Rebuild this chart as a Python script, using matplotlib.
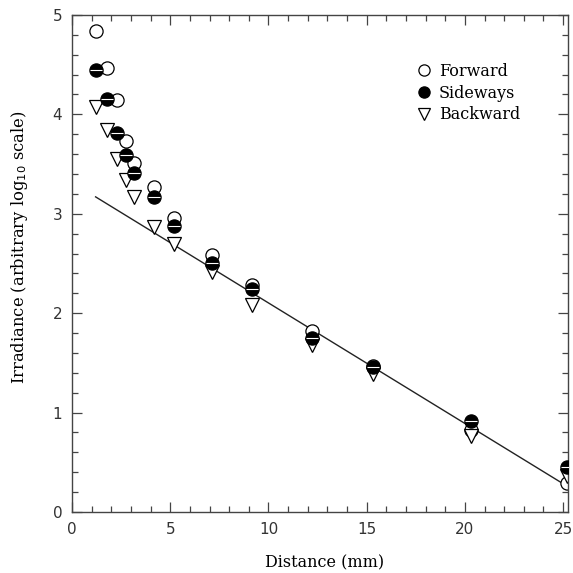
import matplotlib
matplotlib.use("Agg")
import matplotlib.pyplot as plt
from matplotlib.ticker import MultipleLocator

# distances (mm) where irradiance was sampled
distance = [1.22, 1.78, 2.29, 2.75, 3.16, 4.17, 5.19, 7.13, 9.16, 12.2, 15.3, 20.3, 25.2]

# log10 irradiance per direction
forward = [4.84, 4.47, 4.14, 3.73, 3.51, 3.27, 2.96, 2.59, 2.28, 1.82, 1.47, 0.82, 0.29]
sideways = [4.45, 4.15, 3.81, 3.59, 3.41, 3.17, 2.88, 2.50, 2.24, 1.75, 1.46, 0.92, 0.45]
backward = [4.07, 3.84, 3.55, 3.34, 3.17, 2.87, 2.70, 2.41, 2.08, 1.68, 1.39, 0.76, 0.36]

# fitted straight line (end points)
fit_x = [1.2, 25.2]
fit_y = [3.17, 0.26]

serif = ["DejaVu Serif"]

fig = plt.figure(figsize=(5.73, 5.73), dpi=100)
ax = fig.add_axes([0.1257, 0.1065, 0.8656, 0.8674])

ax.plot(fit_x, fit_y, color="#222222", linewidth=1.0, zorder=1)
ax.plot(distance, forward, linestyle="none", marker="o", markersize=9.5,
        markerfacecolor="white", markeredgecolor="black", markeredgewidth=0.9,
        label="Forward", zorder=2)
ax.plot(distance, sideways, linestyle="none", marker="o", markersize=9.5,
        markerfacecolor="black", markeredgecolor="black", markeredgewidth=0.9,
        label="Sideways", zorder=3)
# the white stripe across the filled circles
ax.plot(distance, sideways, linestyle="none", marker="_", markersize=8,
        markeredgecolor="white", markeredgewidth=0.8, zorder=4)
ax.plot(distance, backward, linestyle="none", marker="v", markersize=9.5,
        markerfacecolor="white", markeredgecolor="black", markeredgewidth=0.9,
        label="Backward", zorder=2)

ax.set_xlim(0, 25.25)
ax.set_ylim(0, 5)
ax.xaxis.set_major_locator(MultipleLocator(5))
ax.xaxis.set_minor_locator(MultipleLocator(1))
ax.yaxis.set_major_locator(MultipleLocator(1))
ax.yaxis.set_minor_locator(MultipleLocator(0.2))
ax.tick_params(which="both", direction="in", top=True, right=True,
               color="#444444", width=0.9)
ax.tick_params(which="major", length=7, labelsize=11, pad=7,
               labelcolor="#333333")
ax.tick_params(which="minor", length=4)
for sp in ax.spines.values():
    sp.set_color("#444444")
    sp.set_linewidth(1.0)

ax.set_xlabel("Distance (mm)", fontsize=11.5, family=serif)
ax.xaxis.set_label_coords(0.51, -0.085)
ax.set_ylabel(r"Irradiance (arbitrary log$_{10}$ scale)", fontsize=11.8,
              family=serif)
ax.yaxis.set_label_coords(-0.085, 0.533)

leg = ax.legend(loc="upper left", bbox_to_anchor=(0.672, 0.926), frameon=False,
                handletextpad=0.4, borderpad=0.2, labelspacing=0.3,
                handlelength=1.0, markerscale=0.85,
                prop={"family": serif, "size": 11.5})

fig.savefig("out.png", dpi=100, facecolor="white")
